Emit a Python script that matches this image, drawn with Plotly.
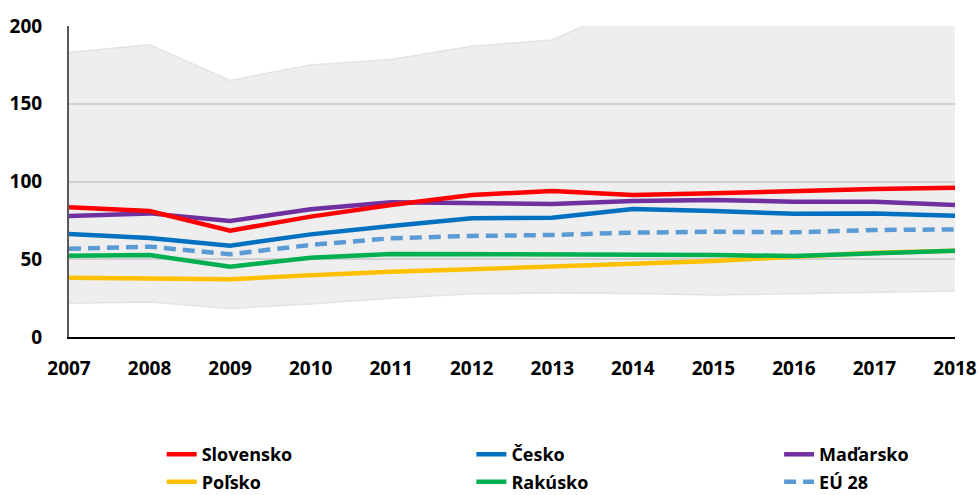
import plotly.graph_objects as go

years = [2007, 2008, 2009, 2010, 2011, 2012, 2013, 2014, 2015, 2016, 2017, 2018]

band_low = [21.7, 22.5, 18.4, 21.2, 25.0, 27.8, 28.3, 28.0, 27.0, 28.0, 29.0, 29.6]
band_high = [183, 188, 165, 175, 178.5, 187, 191, 214, 219, 224, 230, 236]

slovensko = [83.4, 81.0, 68.4, 77.4, 84.9, 91.3, 93.9, 91.3, 92.4, 94.1, 95.2, 96.0]
cesko = [66.2, 63.7, 58.7, 66.0, 71.4, 76.3, 76.7, 82.3, 81.0, 79.3, 79.5, 78.0]
madarsko = [77.8, 79.5, 74.6, 82.1, 86.6, 86.4, 85.5, 87.5, 88.1, 87.0, 87.0, 84.9]
polsko = [38.1, 37.5, 37.1, 39.7, 42.0, 43.5, 45.2, 46.9, 48.9, 51.6, 54.2, 55.5]
rakusko = [52.3, 52.7, 45.2, 51.0, 53.4, 53.4, 53.4, 53.2, 52.7, 52.1, 53.8, 55.5]
eu28 = [56.8, 58.1, 53.2, 59.2, 63.5, 65.0, 65.6, 67.1, 67.7, 67.3, 68.8, 69.2]

y_ticks = [0, 50, 100, 150, 200]

FONT = "Open Sans"

fig = go.Figure()

# grey min-max band
fig.add_trace(go.Scatter(x=years, y=band_low, mode="lines",
                         line=dict(color="#e3e3e3", width=1.5),
                         showlegend=False, hoverinfo="skip"))
fig.add_trace(go.Scatter(x=years, y=band_high, mode="lines", fill="tonexty",
                         fillcolor="rgba(0,0,0,0.065)",
                         line=dict(color="#e3e3e3", width=1.5),
                         showlegend=False, hoverinfo="skip"))

series = [
    ("Poľsko", polsko, "#FFC000", "solid", "legend"),
    ("Rakúsko", rakusko, "#00B050", "solid", "legend2"),
    ("EÚ 28", eu28, "#5B9BD5", "12px,7px", "legend3"),
    ("Česko", cesko, "#0070C0", "solid", "legend2"),
    ("Maďarsko", madarsko, "#7030A0", "solid", "legend3"),
    ("Slovensko", slovensko, "#FF0000", "solid", "legend"),
]
rank = {"Slovensko": 1, "Česko": 1, "Maďarsko": 1, "Poľsko": 2, "Rakúsko": 2, "EÚ 28": 2}

for name, vals, col, dash, lg in series:
    fig.add_trace(go.Scatter(x=years, y=vals, mode="lines", name=name,
                             line=dict(color=col, width=4.5, dash=dash),
                             legend=lg, legendgroup=name, legendrank=rank[name]))

leg_common = dict(orientation="v", yanchor="top", xanchor="left",
                  xref="container", yref="container", traceorder="grouped",
                  font=dict(family=FONT, size=18, color="#000000", weight="bold"),
                  bgcolor="rgba(0,0,0,0)", tracegroupgap=1, itemwidth=30)

fig.update_layout(
    width=980, height=495,
    margin=dict(l=69, r=25, t=26, b=158, autoexpand=False),
    plot_bgcolor="white", paper_bgcolor="white",
    font=dict(family=FONT, size=19, color="#000000"),
    xaxis=dict(range=[2007, 2018], tickmode="array", tickvals=years,
               ticktext=[str(y) for y in years], showgrid=False,
               showline=True, linecolor="#000000", linewidth=2,
               tickfont=dict(family=FONT, size=19, color="#000000", weight="bold"),
               ticks="", ticklabelstandoff=13, zeroline=False, fixedrange=True,
               automargin=False),
    yaxis=dict(range=[0, 200], tickmode="array", tickvals=y_ticks,
               showgrid=True, gridcolor="#dedede", gridwidth=1.5,
               showline=True, linecolor="#595959", linewidth=2,
               tickfont=dict(family=FONT, size=19, color="#000000", weight="bold"),
               ticks="", ticklabelstandoff=21, zeroline=False, fixedrange=True,
               automargin=False),
    legend=dict(x=0.165, y=0.119, **leg_common),
    legend2=dict(x=0.481, y=0.119, **leg_common),
    legend3=dict(x=0.795, y=0.119, **leg_common),
)

fig.write_html("out.html", config={"displayModeBar": False},
               post_script="document.body.style.margin='0';document.body.style.overflow='hidden';")
